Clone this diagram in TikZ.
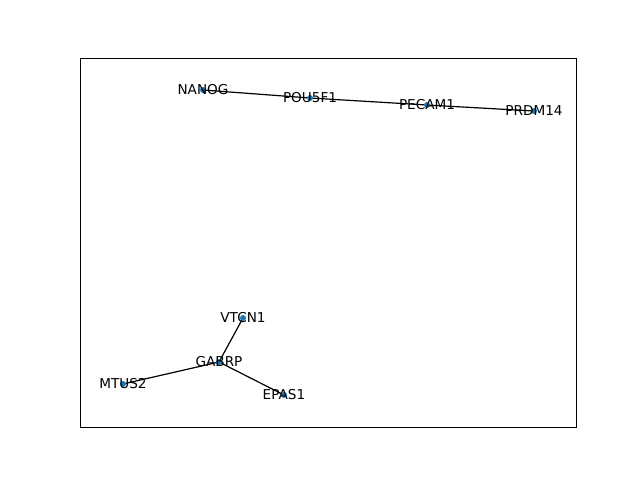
\documentclass[tikz,border=0pt]{standalone}
\usepackage{fontspec}
\setmainfont{DejaVu Sans}
\usetikzlibrary{backgrounds}
\definecolor{tabblue}{HTML}{1F77B4}
\newcommand\genefont{\fontsize{13.6}{16}\selectfont}
\tikzset{
  gene/.style={circle,fill=tabblue,inner sep=0pt,minimum size=6pt,
    label={[font=\genefont,inner sep=0pt,text=black]center:#1}},
  link/.style={black,line width=1.2pt},
}
\begin{document}
\begin{tikzpicture}[x=1pt,y=-1pt]
    \useasboundingbox (0,0) rectangle (640,480);
    \draw[line width=0.8pt] (80,58) rectangle (576,427);
    % upper chain
    \node[gene=NANOG]  (nanog)  at (203,90) {};
    \node[gene=POU5F1] (pou5f1) at (310,98) {};
    \node[gene=PECAM1] (pecam1) at (427,105) {};
    \node[gene=PRDM14] (prdm14) at (534,111) {};
    % lower star
    \node[gene=VTCN1] (vtcn1) at (243,318) {};
    \node[gene=GABRP] (gabrp) at (219,362) {};
    \node[gene=MTUS2] (mtus2) at (123,384) {};
    \node[gene=EPAS1] (epas1) at (284,395) {};
    \begin{scope}[on background layer]
      \draw[link] (nanog.center) -- (pou5f1.center) -- (pecam1.center) -- (prdm14.center);
      \draw[link] (gabrp.center) -- (vtcn1.center);
      \draw[link] (gabrp.center) -- (mtus2.center);
      \draw[link] (gabrp.center) -- (epas1.center);
    \end{scope}
\end{tikzpicture}
\end{document}
